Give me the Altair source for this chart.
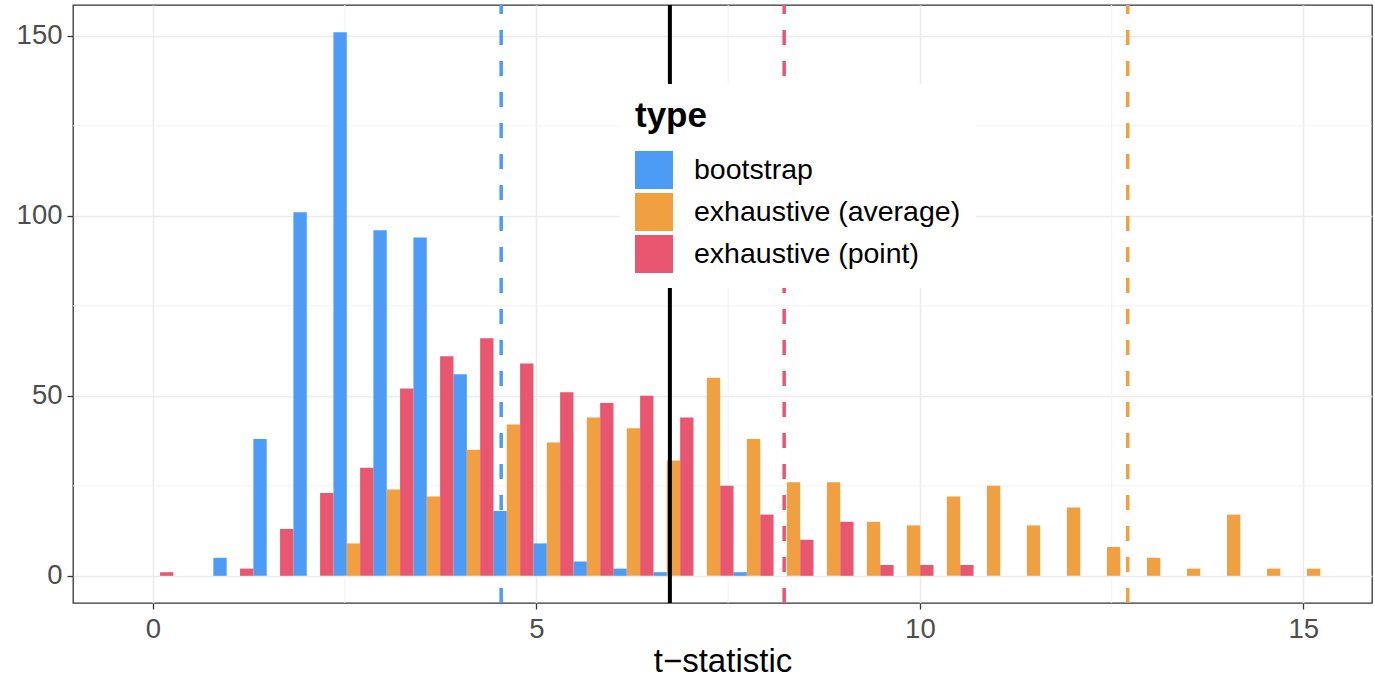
import altair as alt
import pandas as pd

# ---- data ----
types = ["bootstrap", "exhaustive (average)", "exhaustive (point)"]
colors = ["#4C9BF5", "#F0A040", "#E9566F"]

bin_centers = [0.005, 0.527, 1.048, 1.570, 2.092, 2.614, 3.135, 3.657, 4.179, 4.700,
               5.222, 5.744, 6.265, 6.787, 7.309, 7.831, 8.352, 8.874, 9.396, 9.917,
               10.439, 10.961, 11.482, 12.004, 12.526, 13.048, 13.569, 14.091, 14.613, 15.134]
bin_width = 0.5217

count_bootstrap = [0, 0, 5, 38, 101, 151, 96, 94, 56, 18,
                   9, 4, 2, 1, 0, 1, 0, 0, 0, 0,
                   0, 0, 0, 0, 0, 0, 0, 0, 0, 0]
count_average = [0, 0, 0, 0, 0, 9, 24, 22, 35, 42,
                 37, 44, 41, 32, 55, 38, 26, 26, 15, 14,
                 22, 25, 14, 19, 8, 5, 2, 17, 2, 2]
count_point = [1, 0, 2, 13, 23, 30, 52, 61, 66, 59,
               51, 48, 50, 44, 25, 17, 10, 15, 3, 3,
               3, 0, 0, 0, 0, 0, 0, 0, 0, 0]

vline_x = [4.54, 8.23, 12.71]
vline_type = ["bootstrap", "exhaustive (point)", "exhaustive (average)"]
observed_t = [6.74]

x_ticks = [0, 5, 10, 15]
y_ticks = [0, 50, 100, 150]
minor_x = [2.5, 7.5, 12.5]
minor_y = [25, 75, 125]

x_domain = [-1.043, 15.895]
y_domain = [-7.55, 158.55]

# ---- dodged histogram table ----
rows = []
for k, (t, counts) in enumerate(zip(types, [count_bootstrap, count_average, count_point])):
    for c, n in zip(bin_centers, counts):
        if n > 0:
            left = c - bin_width / 2 + k * bin_width / 3
            rows.append({"type": t, "x0": left, "x1": left + bin_width / 3, "count": n})
bars_df = pd.DataFrame(rows)

FONT = "Liberation Sans"
xscale = alt.Scale(domain=x_domain, nice=False, zero=False)
yscale = alt.Scale(domain=y_domain, nice=False, zero=False)
cscale = alt.Scale(domain=types, range=colors)
x_axis = alt.Axis(values=x_ticks, title="t\u2212statistic")
y_axis = alt.Axis(values=y_ticks, title=None)

minor_v = alt.Chart(pd.DataFrame({"x": minor_x})).mark_rule(
    color="#F1F1F1", strokeWidth=0.9
).encode(x=alt.X("x:Q", scale=xscale, axis=x_axis))

minor_h = alt.Chart(pd.DataFrame({"y": minor_y})).mark_rule(
    color="#F1F1F1", strokeWidth=0.9
).encode(y=alt.Y("y:Q", scale=yscale, axis=y_axis))

bars = alt.Chart(bars_df).mark_bar(strokeWidth=0).encode(
    x=alt.X("x0:Q", scale=xscale, axis=x_axis),
    x2="x1:Q",
    y=alt.Y("count:Q", scale=yscale, axis=y_axis),
    y2=alt.datum(0),
    color=alt.Color(
        "type:N",
        scale=cscale,
        legend=alt.Legend(
            title="type",
            orient="none",
            legendX=547,
            legendY=79,
            fillColor="white",
            padding=15,
            titleFont=FONT,
            titleFontSize=35,
            titleFontWeight="bold",
            titleColor="black",
            titlePadding=17,
            labelFont=FONT,
            labelFontSize=28.5,
            labelColor="black",
            labelLimit=500,
            labelOffset=21,
            symbolType="square",
            symbolSize=1444,
            symbolStrokeWidth=0,
            symbolOpacity=1,
            rowPadding=4,
        ),
    ),
)

black_line = alt.Chart(pd.DataFrame({"x": observed_t})).mark_rule(
    color="black", strokeWidth=4
).encode(
    x=alt.X("x:Q", scale=xscale, axis=x_axis),
    y=alt.datum(y_domain[0]),
    y2=alt.datum(y_domain[1]),
)

dashed = alt.Chart(pd.DataFrame({"x": vline_x, "type": vline_type})).mark_rule(
    strokeWidth=3.5, strokeDash=[15, 16]
).encode(
    x=alt.X("x:Q", scale=xscale, axis=x_axis),
    y=alt.datum(y_domain[0]),
    y2=alt.datum(y_domain[1]),
    color=alt.Color("type:N", scale=cscale, legend=None),
)

chart = alt.layer(minor_v, minor_h, bars, black_line, dashed).properties(
    width=1299,
    height=598,
    padding={"left": 73, "top": 5, "right": 3, "bottom": 78},
    autosize=alt.AutoSizeParams(type="none"),
    background="white",
).configure_view(
    stroke="#333333", strokeWidth=1.3
).configure_axis(
    grid=True,
    gridColor="#EBEBEB",
    gridWidth=1.6,
    domain=False,
    tickColor="#333333",
    tickWidth=1.3,
    tickSize=6,
    labelFont=FONT,
    labelFontSize=27.5,
    labelColor="#4D4D4D",
    labelPadding=6,
    titleFont=FONT,
    titleFontSize=33,
    titleFontWeight="normal",
    titleColor="black",
    titlePadding=3,
).configure_axisY(
    labelPadding=5,
)

chart.save("out.html", embed_options={"renderer": "svg", "actions": False})
